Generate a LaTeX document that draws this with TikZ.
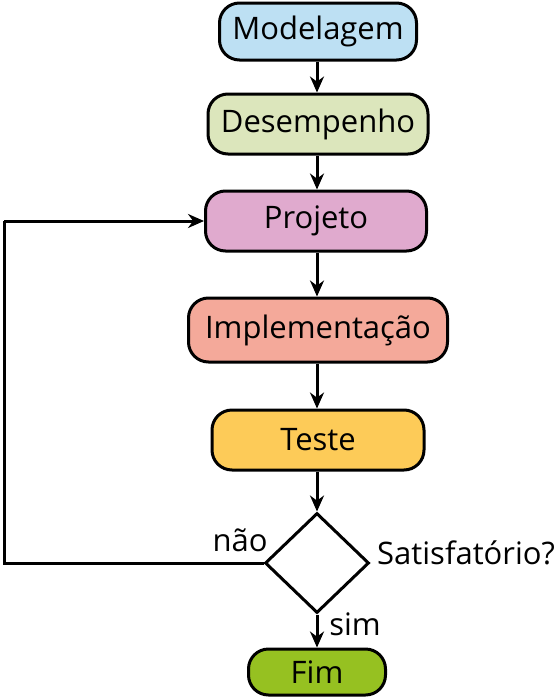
\documentclass[tikz,border=0pt]{standalone}
\usepackage{fontspec}
\setmainfont{Open Sans}
\usetikzlibrary{arrows.meta,shapes.geometric}
\definecolor{cmod}{HTML}{BDE0F3}
\definecolor{cdes}{HTML}{DCE6BC}
\definecolor{cproj}{HTML}{E0AACE}
\definecolor{cimp}{HTML}{F4A99A}
\definecolor{ctes}{HTML}{FDCB58}
\definecolor{cfim}{HTML}{96C121}
\begin{document}
\begin{tikzpicture}[x=1pt,y=-1pt,
  boxst/.style={draw=black,line width=3pt,rounded corners=20pt,inner sep=0pt,font=\fontsize{31}{34}\selectfont},
  lbl/.style={font=\fontsize{31}{34}\selectfont,inner sep=0pt},
  arr/.style={line width=3pt,-{Stealth[length=16pt,width=14pt]}},
  ln/.style={line width=3pt}]
\useasboundingbox (0,0) rectangle (558,699);
\node[boxst,fill=cmod,minimum width=197pt,minimum height=57pt] (mod) at (318,31.5) {Modelagem};
\node[boxst,fill=cdes,minimum width=220pt,minimum height=60pt] (des) at (318,124) {Desempenho};
\node[boxst,fill=cproj,minimum width=221pt,minimum height=60pt] (proj) at (316,221) {Projeto};
\node[boxst,fill=cimp,minimum width=259pt,minimum height=64pt] (imp) at (318,330) {Implementação};
\node[boxst,fill=ctes,minimum width=212pt,minimum height=60pt] (tes) at (318,440) {Teste};
\node[draw=black,line width=3pt,fill=white,diamond,minimum width=104pt,minimum height=100pt,inner sep=0pt,aspect=1.04] (dec) at (317,563) {};
\node[boxst,fill=cfim,minimum width=137pt,minimum height=46pt] (fim) at (317,672) {Fim};
\coordinate (c1) at (4,563);
\coordinate (c2) at (4,221);
\draw[arr] (mod.south -| dec) -- (des.north -| dec);
\draw[arr] (des.south -| dec) -- (proj.north -| dec);
\draw[arr] (proj.south -| dec) -- (imp.north -| dec);
\draw[arr] (imp.south -| dec) -- (tes.north -| dec);
\draw[arr] (tes.south -| dec) -- (dec.north);
\draw[arr] (dec.south) -- (fim.north -| dec);
\draw[ln,line join=miter] (dec.west) -- (c1) -- (c2);
\draw[arr] (c2) -- (proj.west);
\node[lbl] (nao) at (240,540) {não};
\node[lbl,anchor=west] (sat) at (377,553) {Satisfatório?};
\node[lbl] (sim) at (355,624) {sim};
\end{tikzpicture}
\end{document}
